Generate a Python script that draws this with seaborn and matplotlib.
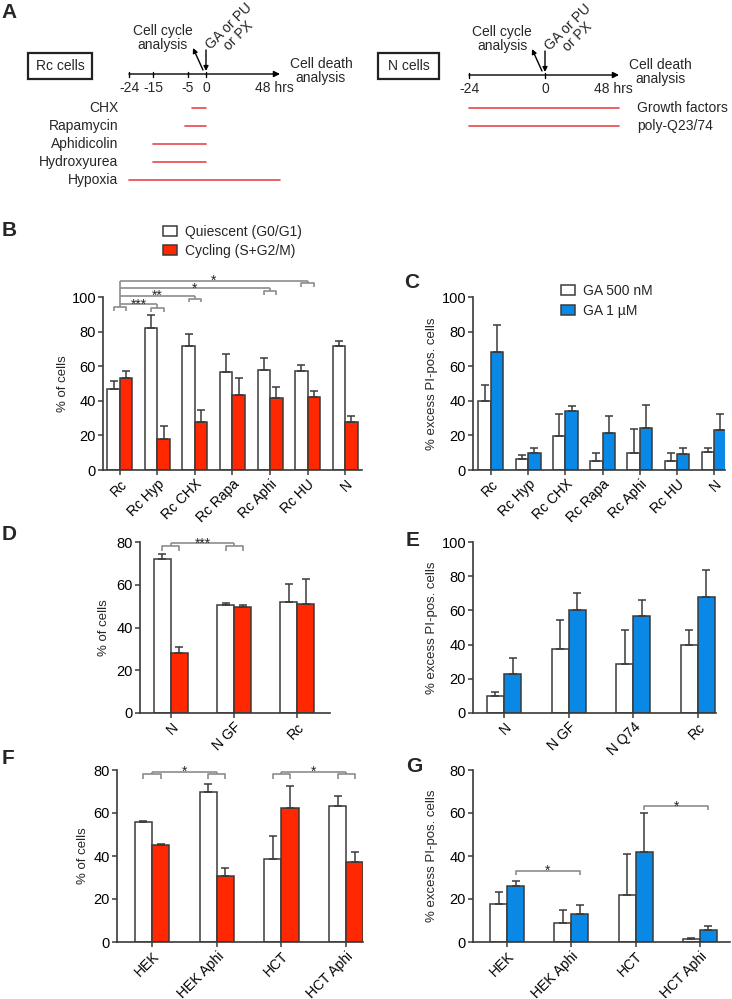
"""Cell-cycle state vs. GA sensitivity: schedule schematic plus bar panels."""

import matplotlib

matplotlib.use("Agg")
import matplotlib.pyplot as plt
import numpy as np
import pandas as pd
import seaborn as sns
from matplotlib.patches import Patch, Rectangle

W, H = 732, 999

# ---- panel A: treatment windows (hours relative to drug addition)
RC_TICKS = [-24, -15, -5, 0, 48]
RC_TREATMENTS = ["CHX", "Rapamycin", "Aphidicolin", "Hydroxyurea", "Hypoxia"]
RC_START = [-4, -6, -15, -15, -24]
RC_END = [0, 0, 0, 0, 48]
N_TICKS = [-24, 0, 48]
N_TREATMENTS = ["Growth factors", "poly-Q23/74"]
N_START = [-24, -24]
N_END = [48, 48]

PHASES = ["Quiescent (G0/G1)", "Cycling (S+G2/M)"]
DOSES = ["GA 500 nM", "GA 1 µM"]

# ---- panel B: cell cycle distribution, Rc treatments
B_GROUPS = ["Rc", "Rc Hyp", "Rc CHX", "Rc Rapa", "Rc Aphi", "Rc HU", "N"]
B_QUIESCENT = [47.0, 81.8, 71.8, 56.9, 58.0, 57.4, 71.8]
B_QUIESCENT_SEM = [4.6, 7.9, 6.7, 10.0, 6.8, 3.5, 2.9]
B_CYCLING = [53.0, 18.0, 28.0, 43.1, 41.6, 42.4, 28.0]
B_CYCLING_SEM = [4.3, 7.7, 6.8, 10.1, 6.6, 3.4, 3.1]
B_SIG_TARGETS = ["Rc Hyp", "Rc CHX", "Rc Aphi", "Rc HU"]
B_SIG_LABELS = ["***", "**", "*", "*"]

# ---- panel C: GA killing, Rc treatments
C_GROUPS = B_GROUPS
C_LOW = [40.0, 6.2, 19.9, 5.3, 10.1, 5.3, 10.3]
C_LOW_SEM = [9.1, 2.6, 12.7, 4.4, 13.7, 4.4, 2.4]
C_HIGH = [68.3, 9.9, 33.9, 21.4, 24.0, 9.0, 23.1]
C_HIGH_SEM = [15.5, 2.6, 3.3, 9.8, 13.6, 4.0, 9.2]

# ---- panel D: cell cycle distribution, N cells
D_GROUPS = ["N", "N GF", "Rc"]
D_QUIESCENT = [71.9, 50.6, 51.9]
D_QUIESCENT_SEM = [2.6, 0.9, 8.3]
D_CYCLING = [28.3, 49.7, 51.1]
D_CYCLING_SEM = [2.8, 0.9, 11.8]
D_SIG = [("N", "N GF", "***")]

# ---- panel E: GA killing, N cells
E_GROUPS = ["N", "N GF", "N Q74", "Rc"]
E_LOW = [10.1, 37.7, 28.6, 39.7]
E_LOW_SEM = [2.2, 16.8, 20.0, 9.1]
E_HIGH = [22.8, 60.1, 56.6, 68.1]
E_HIGH_SEM = [9.2, 9.9, 9.2, 15.4]

# ---- panel F: cell cycle distribution, human lines
F_GROUPS = ["HEK", "HEK Aphi", "HCT", "HCT Aphi"]
F_QUIESCENT = [55.9, 69.9, 38.7, 63.3]
F_QUIESCENT_SEM = [0.3, 3.6, 10.4, 4.6]
F_CYCLING = [44.9, 30.9, 62.1, 37.4]
F_CYCLING_SEM = [0.5, 3.3, 10.4, 4.4]
F_SIG = [("HEK", "HEK Aphi", "*"), ("HCT", "HCT Aphi", "*")]

# ---- panel G: GA killing, human lines
G_GROUPS = F_GROUPS
G_LOW = [17.9, 8.7, 21.7, 1.4]
G_LOW_SEM = [5.3, 6.0, 19.0, 0.3]
G_HIGH = [26.2, 12.8, 41.8, 5.6]
G_HIGH_SEM = [2.3, 4.2, 18.0, 1.9]
G_SIG = [("HEK", "HEK Aphi", "*"), ("HCT", "HCT Aphi", "*")]

WHITE = "#ffffff"
RED = "#ff2800"
BLUE = "#0a88e6"
EDGE = "#3a3a3a"
SCHEDULE_RED = "#e8464a"
SIG = dict(color="#8c8c8c", lw=1.2, clip_on=False, solid_capstyle="butt")

sns.set_style("ticks")
plt.rcParams["font.family"] = ["Liberation Sans", "DejaVu Sans"]


def px_box(left, top, right, bottom):
    return [left / W, 1 - bottom / H, (right - left) / W, (bottom - top) / H]


def star(ax, label, x, y):
    ax.annotate(label, (x, y), xytext=(0, -3), textcoords="offset points",
                ha="center", va="baseline", fontsize=10, annotation_clip=False)


def bar_panel(fig, box, groups, series, means, sems, colors, width, xlim, ymax,
              ylabel, ylabel_x):
    ax = fig.add_axes(px_box(*box))
    frame = pd.DataFrame({
        "group": list(groups) * 2,
        "series": np.repeat(series, len(groups)),
        "value": list(means[0]) + list(means[1]),
    })
    sns.barplot(data=frame, x="group", y="value", hue="series", order=groups,
                hue_order=series, palette=colors, width=width, saturation=1,
                errorbar=None, edgecolor=EDGE, linewidth=1.1, legend=False, ax=ax)
    bars = list(ax.containers)
    for cont, sem in zip(bars, sems):
        xs = [b.get_x() + b.get_width() / 2 for b in cont]
        ys = [b.get_height() for b in cont]
        ax.errorbar(xs, ys, yerr=[np.zeros(len(sem)), sem], fmt="none",
                    ecolor=EDGE, elinewidth=1.1, capsize=2.8, capthick=1.1, zorder=3)

    ax.set_xlim(*xlim)
    ax.set_ylim(0, ymax)
    ax.set_yticks(np.arange(0, ymax + 1, 20))
    ax.set_xticks(range(len(groups)))
    ax.set_xticklabels(groups, rotation=45, ha="right", rotation_mode="anchor")
    ax.set_xlabel("")
    ax.set_ylabel(ylabel, fontsize=9.5)
    left, right = box[0], box[2]
    ax.yaxis.set_label_coords((ylabel_x + 7 - left) / (right - left), 0.5)
    sns.despine(ax=ax)
    for side in ("left", "bottom"):
        ax.spines[side].set_color(EDGE)
        ax.spines[side].set_linewidth(1.2)
    ax.tick_params(axis="both", direction="out", length=3.5, width=1.1,
                   color=EDGE, pad=1.5, labelcolor="black")
    ax.tick_params(axis="y", labelsize=10.5)
    ax.tick_params(axis="x", labelsize=10)
    return ax, bars


def bar_centres(bars):
    return [[b.get_x() + b.get_width() / 2 for b in cont] for cont in bars]


def pair_brackets(ax, bars, groups, pairs, line_y, drop=2.0):
    white, col = bar_centres(bars)
    centre = [(a + b) / 2 for a, b in zip(white, col)]
    for a, b, label in pairs:
        i, j = groups.index(a), groups.index(b)
        yb = line_y - 1.3
        for k in (i, j):
            ax.plot([white[k], white[k], col[k], col[k]], [yb - drop, yb, yb, yb - drop], **SIG)
            ax.plot([centre[k], centre[k]], [yb, line_y], **SIG)
        ax.plot([centre[i], centre[j]], [line_y, line_y], **SIG)
        star(ax, label, (centre[i] + centre[j]) / 2, line_y)


def single_brackets(ax, bars, groups, pairs, heights, drop=1.9):
    col = bar_centres(bars)[1]
    for (a, b, label), y in zip(pairs, heights):
        i, j = groups.index(a), groups.index(b)
        ax.plot([col[i], col[i], col[j], col[j]], [y - drop, y, y, y - drop], **SIG)
        star(ax, label, (col[i] + col[j]) / 2, y)


def reference_brackets(ax, bars, groups, targets, labels, heights):
    white, col = bar_centres(bars)
    centre = [(a + b) / 2 for a, b in zip(white, col)]
    base = 94.2
    ax.plot([white[0], white[0], col[0], col[0]], [base - 2.3, base, base, base - 2.3], **SIG)
    ax.plot([centre[0], centre[0]], [base, max(heights)], **SIG)
    for name, label, y in zip(targets, labels, heights):
        k = groups.index(name)
        yb = min(y - 1.5, y - 2.0 + 0.5 * (k > 1))
        ax.plot([white[k], white[k], col[k], col[k]], [yb - 2.2, yb, yb, yb - 2.2], **SIG)
        ax.plot([centre[k], centre[k]], [yb, y], **SIG)
        ax.plot([centre[0], centre[k]], [y, y], **SIG)
        star(ax, label, (centre[0] + centre[k]) / 2, y)


def schedule(ax, ticks, anchors_px, y, names, starts, ends, rows_y, label_x, label_ha):
    to_px = lambda h: np.interp(h, ticks, anchors_px)
    x0, x1 = to_px(ticks[0]), to_px(ticks[-1])
    ax.annotate("", xy=(x1, y), xytext=(x0, y),
                arrowprops=dict(arrowstyle="-|>", color="black", lw=1.0,
                                mutation_scale=9, shrinkA=0, shrinkB=0))
    for h in ticks[:-1]:
        ax.plot([to_px(h)] * 2, [y - 2.5, y + 2.5], color="black", lw=1.0)
        ax.text(to_px(h), y + 14, f"{h}", ha="center", va="center", fontsize=10)
    ax.text(x1 - 6, y + 14, f"{ticks[-1]} hrs", ha="center", va="center", fontsize=10)
    for name, s, e, ry in zip(names, starts, ends, rows_y):
        ax.plot([to_px(s), to_px(e)], [ry, ry], color=SCHEDULE_RED, lw=1.2)
        ax.text(label_x, ry, name, ha=label_ha, va="center", fontsize=10)
    zero = to_px(0)
    ax.annotate("", xy=(zero, y - 3), xytext=(zero, y - 24),
                arrowprops=dict(arrowstyle="-|>", color="black", lw=1.0,
                                mutation_scale=7, shrinkA=0, shrinkB=0))
    ax.annotate("", xy=(zero - 13, y - 26), xytext=(zero - 3, y - 4),
                arrowprops=dict(arrowstyle="-|>", color="black", lw=1.0,
                                mutation_scale=7, shrinkA=0, shrinkB=0))
    ax.text(zero - 43, y - 36, "Cell cycle\nanalysis", ha="center", va="center",
            multialignment="center", fontsize=10, linespacing=0.95)
    ax.text(zero + 27.5, y - 43, "GA or PU\nor PX", rotation=45, ha="center",
            va="center", rotation_mode="anchor", multialignment="center",
            fontsize=10, linespacing=0.95)
    ax.text(x1 + 41, y - 3, "Cell death\nanalysis", ha="center", va="center",
            multialignment="center", fontsize=10, linespacing=0.95)


fig = plt.figure(figsize=(W / 100, H / 100), dpi=100)

# overlay in pixel coordinates for the schematic and panel letters
ax0 = fig.add_axes([0, 0, 1, 1])
ax0.set_xlim(0, W)
ax0.set_ylim(H, 0)
ax0.axis("off")
ax0.patch.set_alpha(0)

ax0.add_patch(Rectangle((28, 53), 64, 26, fill=False, lw=1.6, edgecolor="#222222"))
ax0.text(60, 66, "Rc cells", ha="center", va="center", fontsize=10)
schedule(ax0, RC_TICKS, [129, 153, 188, 206, 280], 74, RC_TREATMENTS, RC_START,
         RC_END, [108, 126, 144, 162, 180], 118, "right")
ax0.add_patch(Rectangle((378, 53), 61, 26, fill=False, lw=1.6, edgecolor="#222222"))
ax0.text(408.5, 66, "N cells", ha="center", va="center", fontsize=10)
schedule(ax0, N_TICKS, [469, 545, 619], 75, N_TREATMENTS, N_START, N_END,
         [108, 126], 637, "left")

for letter, (lx, ly) in zip("ABCDEFG", [(9, 12), (9, 231), (412, 283), (9, 535),
                                         (413, 541), (8, 759), (414, 766)]):
    ax0.text(lx, ly, letter, ha="center", va="center", fontsize=15, fontweight="bold")

ax_b, bars_b = bar_panel(fig, (103, 297, 362, 470), B_GROUPS, PHASES,
                         [B_QUIESCENT, B_CYCLING], [B_QUIESCENT_SEM, B_CYCLING_SEM],
                         [WHITE, RED], 0.667, (-0.45, 6.45), 100, "% of cells", 62)
reference_brackets(ax_b, bars_b, B_GROUPS, B_SIG_TARGETS, B_SIG_LABELS,
                   [95.7, 100.6, 105.0, 109.5])
ax_b.legend(handles=[Patch(facecolor=WHITE, edgecolor=EDGE, lw=1.1),
                     Patch(facecolor=RED, edgecolor=EDGE, lw=1.1)],
            labels=PHASES, loc="upper left", bbox_to_anchor=(163 / W, 1 - 225 / H),
            bbox_transform=fig.transFigure, frameon=False, borderpad=0,
            borderaxespad=0, handlelength=1.0, handleheight=0.65,
            handletextpad=0.55, labelspacing=0.35, fontsize=10)

ax_c, bars_c = bar_panel(fig, (473, 297, 725, 470), C_GROUPS, DOSES,
                         [C_LOW, C_HIGH], [C_LOW_SEM, C_HIGH_SEM],
                         [WHITE, BLUE], 0.667, (-0.48, 6.29), 100,
                         "% excess PI-pos. cells", 431)
ax_c.legend(handles=[Patch(facecolor=WHITE, edgecolor=EDGE, lw=1.1),
                     Patch(facecolor=BLUE, edgecolor=EDGE, lw=1.1)],
            labels=DOSES, loc="upper left", bbox_to_anchor=(561 / W, 1 - 284 / H),
            bbox_transform=fig.transFigure, frameon=False, borderpad=0,
            borderaxespad=0, handlelength=1.0, handleheight=0.65,
            handletextpad=0.55, labelspacing=0.42, fontsize=10)

ax_d, bars_d = bar_panel(fig, (140, 542, 330, 713), D_GROUPS, PHASES,
                         [D_QUIESCENT, D_CYCLING], [D_QUIESCENT_SEM, D_CYCLING_SEM],
                         [WHITE, RED], 0.54, (-0.49, 2.52), 80, "% of cells", 103)
pair_brackets(ax_d, bars_d, D_GROUPS, D_SIG, 79.3)

ax_e, bars_e = bar_panel(fig, (473, 542, 716, 713), E_GROUPS, DOSES,
                         [E_LOW, E_HIGH], [E_LOW_SEM, E_HIGH_SEM],
                         [WHITE, BLUE], 0.53, (-0.48, 3.28), 100,
                         "% excess PI-pos. cells", 431)

ax_f, bars_f = bar_panel(fig, (117, 770, 363, 942), F_GROUPS, PHASES,
                         [F_QUIESCENT, F_CYCLING], [F_QUIESCENT_SEM, F_CYCLING_SEM],
                         [WHITE, RED], 0.53, (-0.54, 3.26), 80, "% of cells", 82)
pair_brackets(ax_f, bars_f, F_GROUPS, F_SIG, 79.3)

ax_g, bars_g = bar_panel(fig, (473, 770, 730, 942), G_GROUPS, DOSES,
                         [G_LOW, G_HIGH], [G_LOW_SEM, G_HIGH_SEM],
                         [WHITE, BLUE], 0.53, (-0.53, 3.47), 80,
                         "% excess PI-pos. cells", 431)
single_brackets(ax_g, bars_g, G_GROUPS, G_SIG, [33.1, 63.2])

fig.savefig("out.png", dpi=100)
